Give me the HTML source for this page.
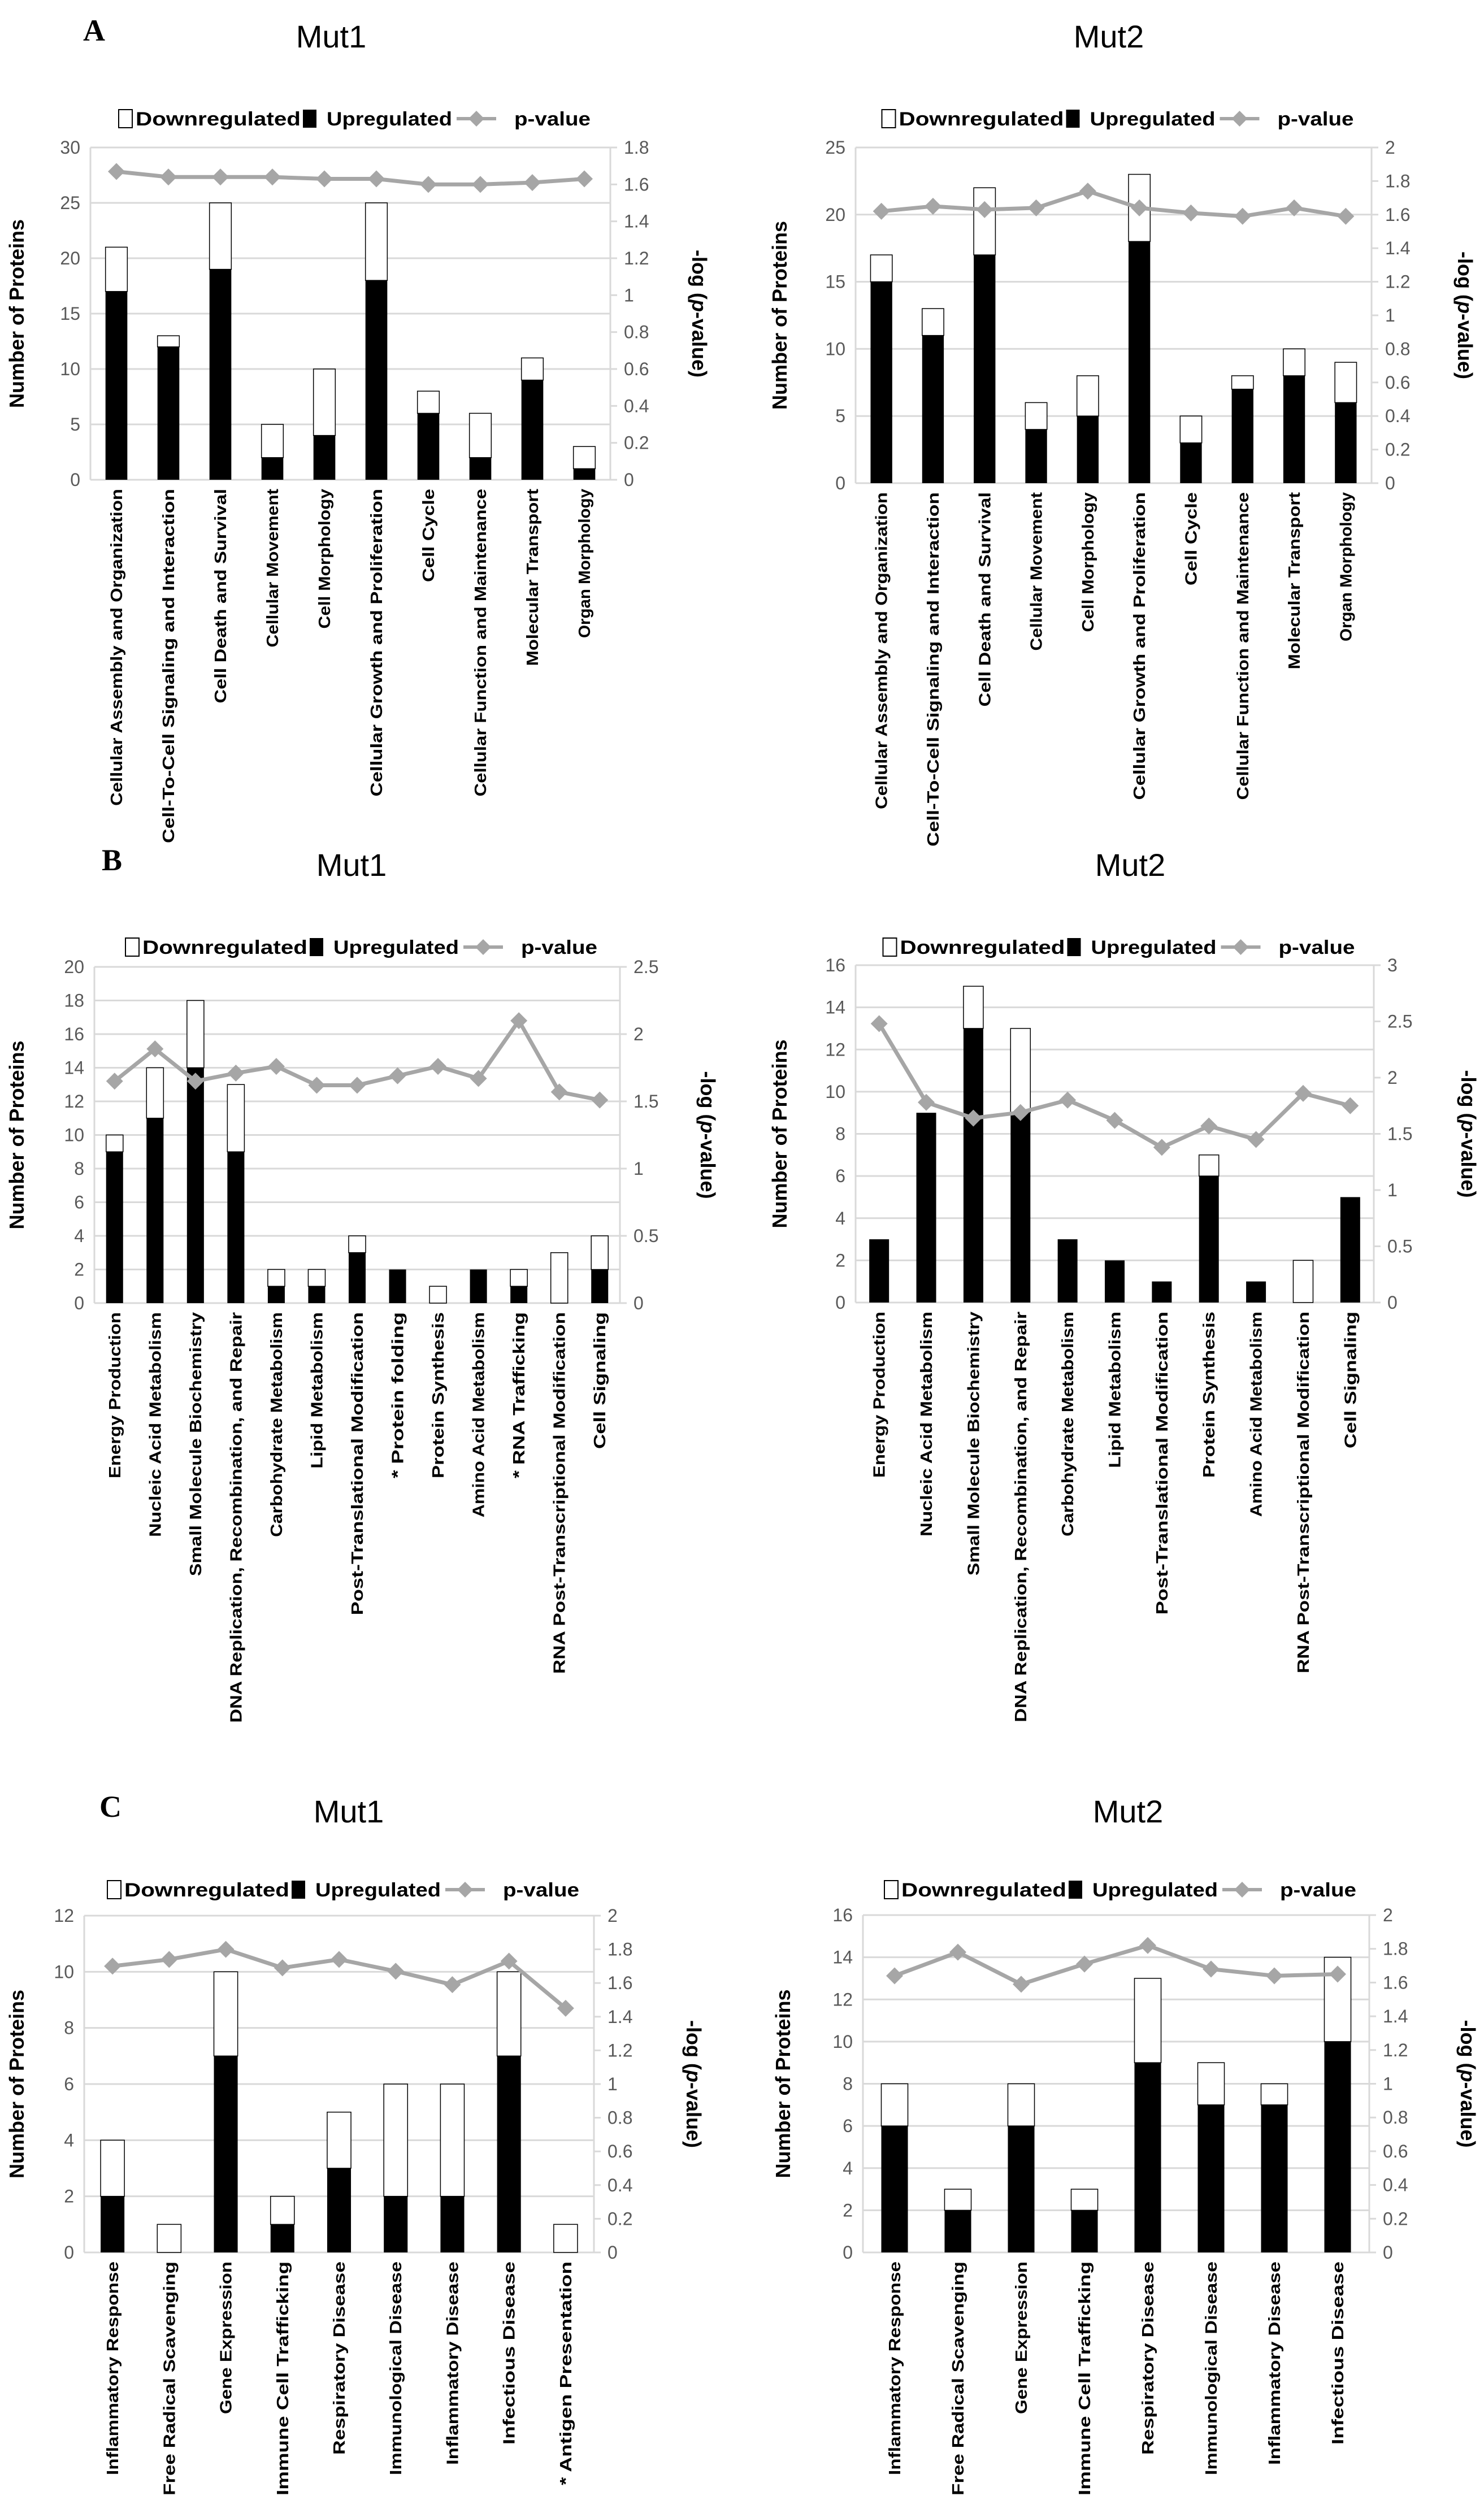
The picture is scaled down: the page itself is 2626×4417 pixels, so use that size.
<!DOCTYPE html>
<html><head><meta charset="utf-8"><title>Protein function charts</title>
<style>
html,body{margin:0;padding:0;background:#fff;}
svg{display:block;}
</style></head>
<body>
<svg id="fig" width="2626" height="4417" viewBox="0 0 2626 4417" xmlns="http://www.w3.org/2000/svg">
<rect x="0" y="0" width="2626" height="4417" fill="#fff"/>
<text x="147" y="72" font-family="Liberation Serif, serif" font-weight="bold" font-size="54">A</text>
<text x="180" y="1540" font-family="Liberation Serif, serif" font-weight="bold" font-size="54">B</text>
<text x="176" y="3215" font-family="Liberation Serif, serif" font-weight="bold" font-size="54">C</text>
</svg>
<script>
// ===== Panel A Mut1 =====
const aMut1Cats = ["Cellular Assembly and Organization","Cell-To-Cell Signaling and Interaction","Cell Death and Survival","Cellular Movement","Cell Morphology","Cellular Growth and Proliferation","Cell Cycle","Cellular Function and Maintenance","Molecular Transport","Organ Morphology"];
const aMut1Up = [17,12,19,2,4,18,6,2,9,1];
const aMut1Down = [4,1,6,3,6,7,2,4,2,2];
const aMut1P = [1.67,1.64,1.64,1.64,1.63,1.63,1.60,1.60,1.61,1.63];
const aMut1LeftTicks = [0,5,10,15,20,25,30];
const aMut1RightTicks = [0,0.2,0.4,0.6,0.8,1,1.2,1.4,1.6,1.8];
// ===== Panel A Mut2 =====
const aMut2Cats = aMut1Cats;
const aMut2Up = [15,11,17,4,5,18,3,7,8,6];
const aMut2Down = [2,2,5,2,3,5,2,1,2,3];
const aMut2P = [1.62,1.65,1.63,1.64,1.74,1.64,1.61,1.59,1.64,1.59];
const aMut2LeftTicks = [0,5,10,15,20,25];
const aMut2RightTicks = [0,0.2,0.4,0.6,0.8,1,1.2,1.4,1.6,1.8,2];
// ===== Panel B Mut1 =====
const bMut1Cats = ["Energy Production","Nucleic Acid Metabolism","Small Molecule Biochemistry","DNA Replication, Recombination, and Repair","Carbohydrate Metabolism","Lipid Metabolism","Post-Translational Modification","* Protein folding","Protein Synthesis","Amino Acid Metabolism","* RNA Trafficking","RNA Post-Transcriptional Modification","Cell Signaling"];
const bMut1Up = [9,11,14,9,1,1,3,2,0,2,1,0,2];
const bMut1Down = [1,3,4,4,1,1,1,0,1,0,1,3,2];
const bMut1P = [1.65,1.89,1.65,1.71,1.76,1.62,1.62,1.69,1.76,1.67,2.10,1.57,1.51];
const bMut1LeftTicks = [0,2,4,6,8,10,12,14,16,18,20];
const bMut1RightTicks = [0,0.5,1,1.5,2,2.5];
// ===== Panel B Mut2 =====
const bMut2Cats = ["Energy Production","Nucleic Acid Metabolism","Small Molecule Biochemistry","DNA Replication, Recombination, and Repair","Carbohydrate Metabolism","Lipid Metabolism","Post-Translational Modification","Protein Synthesis","Amino Acid Metabolism","RNA Post-Transcriptional Modification","Cell Signaling"];
const bMut2Up = [3,9,13,9,3,2,1,6,1,0,5];
const bMut2Down = [0,0,2,4,0,0,0,1,0,2,0];
const bMut2P = [2.48,1.78,1.64,1.69,1.80,1.62,1.38,1.57,1.45,1.86,1.75];
const bMut2LeftTicks = [0,2,4,6,8,10,12,14,16];
const bMut2RightTicks = [0,0.5,1,1.5,2,2.5,3];
// ===== Panel C Mut1 =====
const cMut1Cats = ["Inflammatory Response","Free Radical Scavenging","Gene Expression","Immune Cell Trafficking","Respiratory Disease","Immunological Disease","Inflammatory Disease","Infectious Disease","* Antigen Presentation"];
const cMut1Up = [2,0,7,1,3,2,2,7,0];
const cMut1Down = [2,1,3,1,2,4,4,3,1];
const cMut1P = [1.70,1.74,1.80,1.69,1.74,1.67,1.59,1.73,1.45];
const cMut1LeftTicks = [0,2,4,6,8,10,12];
const cMut1RightTicks = [0,0.2,0.4,0.6,0.8,1,1.2,1.4,1.6,1.8,2];
// ===== Panel C Mut2 =====
const cMut2Cats = ["Inflammatory Response","Free Radical Scavenging","Gene Expression","Immune Cell Trafficking","Respiratory Disease","Immunological Disease","Inflammatory Disease","Infectious Disease"];
const cMut2Up = [6,2,6,2,9,7,7,10];
const cMut2Down = [2,1,2,1,4,2,1,4];
const cMut2P = [1.64,1.78,1.59,1.71,1.82,1.68,1.64,1.65];
const cMut2LeftTicks = [0,2,4,6,8,10,12,14,16];
const cMut2RightTicks = [0,0.2,0.4,0.6,0.8,1,1.2,1.4,1.6,1.8,2];

const NS = "http://www.w3.org/2000/svg";
const svg = document.getElementById("fig");
function mk(tag, attrs, parent){
  const e = document.createElementNS(NS, tag);
  for (const k in attrs) e.setAttribute(k, attrs[k]);
  (parent||svg).appendChild(e);
  return e;
}
const TICKFONT = "Liberation Sans, DejaVu Sans, sans-serif";
const BOLDFONT = "Liberation Sans Narrow, Liberation Sans, sans-serif";

function drawChart(id, L, R, T, B, cats, up, down, pv, lt, rt, title, titleX, titleY, legY, leftTitleX, rightTitleX, lblCharW){
  const g = mk("g", {});
  
  
  const lmax = lt[lt.length-1], rmax = rt[rt.length-1];
  const yL = v => B - v/lmax*(B-T);
  const yR = v => B - v/rmax*(B-T);
  const step = (R-L)/cats.length;
  const xC = i => L + step*(i+0.5);
  const bw = step*0.42;

  const t = mk("text", {x:titleX, y:titleY, "text-anchor":"middle", "font-family":TICKFONT, "font-size":56, fill:"#000"}, g);
  t.textContent = title;
  
  

  // gridlines
  lt.forEach(v=>{
    const l = mk("line", {x1:L, x2:R, y1:yL(v), y2:yL(v), stroke:"#d9d9d9", "stroke-width":3}, g);
    
    
    const tx = mk("text", {x:L-18, y:yL(v)+11, "text-anchor":"end", "font-family":TICKFONT, "font-size":32, fill:"#595959"}, g);
    tx.textContent = v;
    
    
  });
  rt.forEach(v=>{
    const tk = mk("line", {x1:R, x2:R+12, y1:yR(v), y2:yR(v), stroke:"#d9d9d9", "stroke-width":3}, g);
    
    
    const tx = mk("text", {x:R+24, y:yR(v)+11, "text-anchor":"start", "font-family":TICKFONT, "font-size":32, fill:"#595959"}, g);
    tx.textContent = v;
    
    
  });
  const la = mk("line", {x1:L, x2:L, y1:T, y2:B, stroke:"#d9d9d9", "stroke-width":3}, g);
  
  
  const ra = mk("line", {x1:R, x2:R, y1:T, y2:B, stroke:"#d9d9d9", "stroke-width":3}, g);
  
  

  // bars
  cats.forEach((c,i)=>{
    const x = xC(i)-bw/2;
    const tot = up[i]+down[i];
    if (down[i]>0){
      const r = mk("rect", {x:x, y:yL(tot), width:bw, height:yL(up[i])-yL(tot), fill:"#fff", stroke:"#000", "stroke-width":1.5}, g);
      
      
    }
    if (up[i]>0){
      const r = mk("rect", {x:x, y:yL(up[i]), width:bw, height:B-yL(up[i]), fill:"#000"}, g);
      
      
    }
    const lb = mk("text", {x:0, y:0, transform:"translate("+(xC(i)+10)+","+(B+16)+") rotate(-90)", "text-anchor":"end", "font-family":BOLDFONT, "font-weight":"bold", "font-size":29, fill:"#000", textLength: c.length*lblCharW, lengthAdjust:"spacingAndGlyphs"}, g);
    lb.textContent = c;
    
    
  });

  // p-value line
  const pts = pv.map((v,i)=>xC(i)+","+yR(v)).join(" ");
  const pl = mk("polyline", {points:pts, fill:"none", stroke:"#a6a6a6", "stroke-width":7, "stroke-linejoin":"round"}, g);
  
  
  pv.forEach((v,i)=>{
    const cx = xC(i), cy = yR(v), s = 15;
    const d = mk("polygon", {points:`${cx},${cy-s} ${cx+s},${cy} ${cx},${cy+s} ${cx-s},${cy}`, fill:"#a6a6a6"}, g);
    
    
  });

  // axis titles
  const yt = mk("text", {x:0, y:0, transform:"translate("+leftTitleX+","+((T+B)/2)+") rotate(-90)", "text-anchor":"middle", "font-family":TICKFONT, "font-weight":"bold", "font-size":36, fill:"#000"}, g);
  yt.textContent = "Number of Proteins";
  
  
  const rtl = mk("text", {x:0, y:0, transform:"translate("+rightTitleX+","+((T+B)/2)+") rotate(90)", "text-anchor":"middle", "font-family":TICKFONT, "font-weight":"bold", "font-size":36, fill:"#000"}, g);
  rtl.innerHTML = '-log (<tspan font-style="italic">p</tspan>-value)';
  
  

  // legend
  const lg = mk("g", {}, g);
  
  
  const cx0 = (L+R)/2 - 410;
  const b1 = mk("rect", {x:cx0, y:legY-28, width:24, height:32, fill:"#fff", stroke:"#000", "stroke-width":2}, lg);
  
  
  const t1 = mk("text", {x:cx0+30, y:legY, "font-family":BOLDFONT, "font-weight":"bold", "font-size":34, textLength:292, lengthAdjust:"spacingAndGlyphs"}, lg);
  t1.textContent = "Downregulated";
  
  
  const b2 = mk("rect", {x:cx0+326, y:legY-28, width:24, height:32, fill:"#000"}, lg);
  
  
  const t2 = mk("text", {x:cx0+368, y:legY, "font-family":BOLDFONT, "font-weight":"bold", "font-size":34, textLength:222, lengthAdjust:"spacingAndGlyphs"}, lg);
  t2.textContent = "Upregulated";
  
  
  const ll = mk("line", {x1:cx0+598, x2:cx0+668, y1:legY-12, y2:legY-12, stroke:"#a6a6a6", "stroke-width":6}, lg);
  
  
  const lcx = cx0+633, lcy = legY-12;
  const ld = mk("polygon", {points:`${lcx},${lcy-14} ${lcx+14},${lcy} ${lcx},${lcy+14} ${lcx-14},${lcy}`, fill:"#a6a6a6"}, lg);
  
  
  const t3 = mk("text", {x:cx0+700, y:legY, "font-family":BOLDFONT, "font-weight":"bold", "font-size":34, textLength:135, lengthAdjust:"spacingAndGlyphs"}, lg);
  t3.textContent = "p-value";
  
  
}

drawChart("a-mut1", 160, 1080, 261, 849, aMut1Cats, aMut1Up, aMut1Down, aMut1P, aMut1LeftTicks, aMut1RightTicks, "Mut1", 586, 84, 222, 42, 1225, 16.5);
drawChart("a-mut2", 1514, 2427, 261, 855, aMut2Cats, aMut2Up, aMut2Down, aMut2P, aMut2LeftTicks, aMut2RightTicks, "Mut2", 1962, 84, 222, 1392, 2580, 16.5);
drawChart("b-mut1", 167, 1097, 1711, 2306, bMut1Cats, bMut1Up, bMut1Down, bMut1P, bMut1LeftTicks, bMut1RightTicks, "Mut1", 622, 1550, 1688, 42, 1240, 17.3);
drawChart("b-mut2", 1514, 2431, 1708, 2305, bMut2Cats, bMut2Up, bMut2Down, bMut2P, bMut2LeftTicks, bMut2RightTicks, "Mut2", 2000, 1550, 1688, 1392, 2586, 17.3);
drawChart("c-mut1", 149, 1051, 3390, 3986, cMut1Cats, cMut1Up, cMut1Down, cMut1P, cMut1LeftTicks, cMut1RightTicks, "Mut1", 617, 3225, 3356, 42, 1215, 18);
drawChart("c-mut2", 1527, 2423, 3389, 3986, cMut2Cats, cMut2Up, cMut2Down, cMut2P, cMut2LeftTicks, cMut2RightTicks, "Mut2", 1996, 3225, 3356, 1398, 2585, 18);
</script>
</body></html>
